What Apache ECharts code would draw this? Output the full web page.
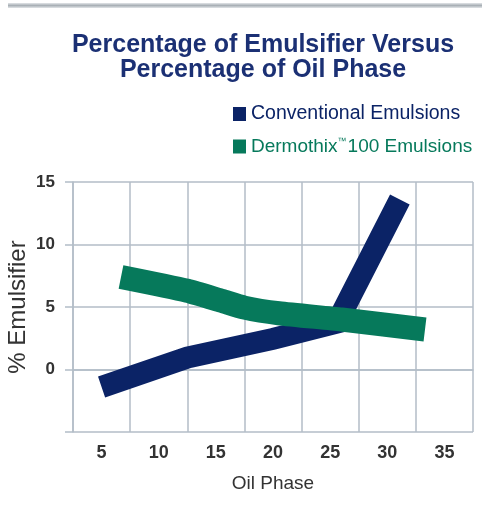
<!DOCTYPE html>
<html>
<head>
<meta charset="utf-8">
<script src="https://cdn.jsdelivr.net/npm/echarts@6/dist/echarts.min.js"></script>
<style>
  html, body { margin: 0; padding: 0; background: #fff; }
  #main { width: 482px; height: 510px; }
</style>
</head>
<body>
<div id="main"></div>
<script>
// x tick labels (category boxes) and y ticks
var oilLabels = ['5', '10', '15', '20', '25', '30', '35'];
// [oil phase %, emulsifier %]
var conventional = [[5.0, -1.4], [12.5, 0.95], [20, 2.45], [25.6, 3.75], [31.1, 13.6]];
var dermothix = [[6.7, 7.4], [12.5, 6.3], [15.5, 5.5], [17.5, 4.95], [20.5, 4.5], [26, 4.0], [33.3, 3.2]];

var navy = '#0b2366';
var green = '#06795b';
var gridGrey = '#b3bdc7';
var font = '"Liberation Sans", Arial, sans-serif';

var myChart = echarts.init(document.getElementById('main'));
var option = {
  backgroundColor: '#fff',
  animation: false,
  textStyle: { fontFamily: font },
  title: {
    text: 'Percentage of Emulsifier Versus\nPercentage of Oil Phase',
    left: 258,
    textAlign: 'center',
    top: 28,
    textStyle: {
      color: '#1b3074',
      fontSize: 25,
      fontWeight: 'bold',
      fontFamily: font,
      lineHeight: 25
    }
  },
  graphic: [{
    type: 'rect',
    shape: { x: 8, y: 3, width: 474, height: 5 },
    style: {
      fill: new echarts.graphic.LinearGradient(0, 0, 0, 1, [
        { offset: 0, color: '#e2e5e8' },
        { offset: 0.5, color: '#a9b0b6' },
        { offset: 1, color: '#e2e5e8' }
      ])
    }
  }],
  legend: {
    orient: 'vertical',
    left: 228,
    top: 99,
    itemWidth: 13,
    itemHeight: 14,
    itemGap: 13,
    icon: 'rect',
    formatter: function (name) {
      if (name.indexOf('\u2122') >= 0) {
        var parts = name.split('\u2122');
        return '{g|' + parts[0] + '}{tm|\u2122}{g|' + parts[1] + '}';
      }
      return '{n|' + name + '}';
    },
    textStyle: {
      fontSize: 19.5,
      fontFamily: font,
      rich: {
        n: { color: navy, fontSize: 19.5, fontFamily: font },
        g: { color: green, fontSize: 19, fontFamily: font },
        tm: { color: green, fontSize: 9, fontFamily: font, verticalAlign: 'top', padding: [0, 1, 8, 0] }
      }
    },
    data: [
      { name: 'Conventional Emulsions' },
      { name: 'Dermothix\u2122100 Emulsions' }
    ]
  },
  grid: { left: 73, right: 9, top: 182, bottom: 78, outerBoundsMode: 'none' },
  xAxis: [{
    type: 'category',
    data: oilLabels,
    boundaryGap: true,
    name: 'Oil Phase',
    nameLocation: 'middle',
    nameGap: 42,
    nameTextStyle: { color: '#333', fontSize: 19, fontFamily: font },
    axisLine: { lineStyle: { color: gridGrey, width: 1.5 } },
    axisTick: { length: 9, lineStyle: { color: gridGrey, width: 1.5 } },
    axisLabel: { color: '#333', fontSize: 18, fontWeight: 'bold', margin: 12, fontFamily: font },
    splitLine: { show: true, lineStyle: { color: gridGrey, width: 1.5 } }
  }, {
    type: 'value',
    min: 2.5,
    max: 37.5,
    show: false
  }],
  yAxis: {
    type: 'value',
    min: -5,
    max: 15,
    interval: 5,
    name: '% Emulsifier',
    nameLocation: 'middle',
    nameGap: 43,
    nameMoveOverlap: false,
    nameTextStyle: { color: '#333', fontSize: 24, fontFamily: font },
    axisLine: { show: true, lineStyle: { color: gridGrey, width: 1.5 } },
    axisTick: { show: true, length: 8, lineStyle: { color: gridGrey, width: 1.5 } },
    axisLabel: {
      color: '#333', fontSize: 17, fontWeight: 'bold', margin: 18, fontFamily: font,
      formatter: function (v) { return v < 0 ? '' : String(v); }
    },
    splitLine: { lineStyle: { color: gridGrey, width: 1.5 } }
  },
  series: [{
    name: 'Conventional Emulsions',
    type: 'line',
    xAxisIndex: 1,
    data: conventional,
    symbol: 'none',
    color: navy,
    lineStyle: { width: 22, color: navy, cap: 'butt', join: 'miter' }
  }, {
    name: 'Dermothix\u2122100 Emulsions',
    type: 'line',
    xAxisIndex: 1,
    data: dermothix,
    symbol: 'none',
    smooth: 0.2,
    color: green,
    lineStyle: { width: 24, color: green, cap: 'butt', join: 'miter' }
  }]
};
myChart.setOption(option);
</script>
</body>
</html>
